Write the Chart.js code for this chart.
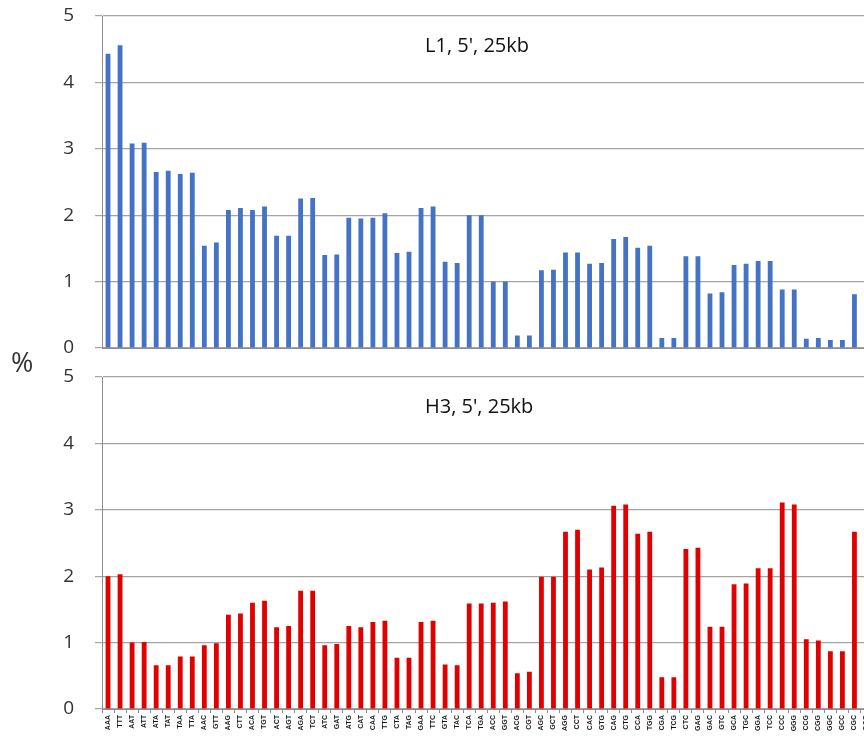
<!DOCTYPE html>
<html>
<head>
<meta charset="utf-8">
<script src="https://cdn.jsdelivr.net/npm/chart.js@4/dist/chart.umd.min.js"></script>
<style>
    html, body { margin: 0; padding: 0; background: #fff; overflow: hidden; width: 864px; height: 742px; }
    .panel { position: absolute; left: 0; }
    .label { position: absolute; font-family: "Open Sans", sans-serif; color: #111; white-space: nowrap; }
</style>
</head>
<body>
<div class="panel" style="top:360px; width:880px; height:382px;"><canvas id="bottomChart"></canvas></div>
<div class="panel" style="top:0; width:880px; height:372px;"><canvas id="topChart"></canvas></div>
<div class="label" style="left:425px; top:31px; font-size:20px;">L1, 5', 25kb</div>
<div class="label" style="left:425px; top:392px; font-size:20px;">H3, 5', 25kb</div>
<div class="label" style="left:11px; top:343px; font-size:27px; color:#333;">%</div>
<script>
// trinucleotides, reverse complement pairs side by side
const trinucleotides = ["AAA", "TTT", "AAT", "ATT", "ATA", "TAT", "TAA", "TTA",
    "AAC", "GTT", "AAG", "CTT", "ACA", "TGT", "ACT", "AGT", "AGA", "TCT", "ATC", "GAT",
    "ATG", "CAT", "CAA", "TTG", "CTA", "TAG", "GAA", "TTC", "GTA", "TAC", "TCA", "TGA",
    "ACC", "GGT", "ACG", "CGT", "AGC", "GCT", "AGG", "CCT", "CAC", "GTG", "CAG", "CTG",
    "CCA", "TGG", "CGA", "TCG", "CTC", "GAG", "GAC", "GTC", "GCA", "TGC", "GGA", "TCC",
    "CCC", "GGG", "CCG", "CGG", "GGC", "GCC", "CGC", "GCG"];

// % values, last one is cut off in the figure
const l1Values = [4.43, 4.56, 3.08, 3.09, 2.65, 2.67, 2.62, 2.64, 1.54, 1.59, 2.08, 2.11,
    2.08, 2.13, 1.69, 1.69, 2.25, 2.26, 1.40, 1.41, 1.96, 1.95, 1.96, 2.03, 1.43, 1.45,
    2.11, 2.13, 1.30, 1.28, 2.00, 2.00, 1.00, 1.00, 0.19, 0.19, 1.17, 1.18, 1.44, 1.44,
    1.27, 1.28, 1.64, 1.67, 1.51, 1.54, 0.15, 0.15, 1.38, 1.38, 0.82, 0.84, 1.25, 1.27,
    1.31, 1.31, 0.88, 0.88, 0.14, 0.15, 0.12, 0.12, 0.81, null];

const h3Values = [2.00, 2.03, 1.00, 1.01, 0.66, 0.66, 0.79, 0.79, 0.96, 0.99, 1.42, 1.44,
    1.60, 1.63, 1.23, 1.25, 1.78, 1.78, 0.96, 0.98, 1.25, 1.23, 1.31, 1.33, 0.77, 0.77,
    1.31, 1.33, 0.67, 0.66, 1.59, 1.59, 1.60, 1.62, 0.54, 0.56, 1.99, 1.99, 2.67, 2.70,
    2.10, 2.13, 3.06, 3.08, 2.64, 2.67, 0.48, 0.48, 2.41, 2.43, 1.24, 1.24, 1.88, 1.89,
    2.12, 2.12, 3.11, 3.08, 1.05, 1.03, 0.87, 0.87, 2.67, null];

const yTicks = [0, 1, 2, 3, 4, 5];

const gridColor = "#a4a4a4";
const axisColor = "#8c8c8c";

function makeChart(canvasId, values, color, showLabels) {
    const ctx = document.getElementById(canvasId).getContext("2d");
    return new Chart(ctx, {
        type: "bar",
        data: {
            labels: trinucleotides,
            datasets: [{
                data: values,
                backgroundColor: color,
                borderWidth: 0,
                barPercentage: 0.4,
                categoryPercentage: 1.0
            }]
        },
        options: {
            responsive: true,
            maintainAspectRatio: false,
            animation: false,
            devicePixelRatio: 1,
            layout: { padding: { top: showLabels ? 17 : 16, right: 7.5, left: 0, bottom: 0 } },
            plugins: { legend: { display: false }, tooltip: { enabled: false } },
            scales: {
                x: {
                    grid: {
                        display: showLabels,
                        drawOnChartArea: false,
                        drawTicks: true,
                        tickLength: 4,
                        color: axisColor
                    },
                    border: { display: true, color: axisColor, width: 1 },
                    ticks: {
                        display: showLabels,
                        autoSkip: false,
                        maxRotation: 90,
                        minRotation: 90,
                        padding: 2,
                        color: "#1a1a1a",
                        font: { family: "Liberation Sans", size: 7, weight: "bold" }
                    },
                    // top panel: empty band below the axis so the "0" label is not clipped
                    afterFit: function (scale) { scale.height = showLabels ? 33 : 24; }
                },
                y: {
                    min: 0,
                    max: 5,
                    afterBuildTicks: function (scale) {
                        scale.ticks = yTicks.map(v => ({ value: v }));
                    },
                    grid: { color: gridColor, tickLength: 7, lineWidth: 1.2 },
                    border: { display: true, color: axisColor, width: 1 },
                    ticks: {
                        padding: 21,
                        color: "#333",
                        font: { family: "Open Sans", size: 19 }
                    },
                    afterFit: function (scale) {
                        scale.width = 102;
                        // tick padding should not push the plot down
                        scale.paddingTop = 0;
                        scale.paddingBottom = 0;
                    }
                }
            }
        }
    });
}

makeChart("topChart", l1Values, "#4472c4", false);
makeChart("bottomChart", h3Values, "#e00000", true);
</script>
</body>
</html>
